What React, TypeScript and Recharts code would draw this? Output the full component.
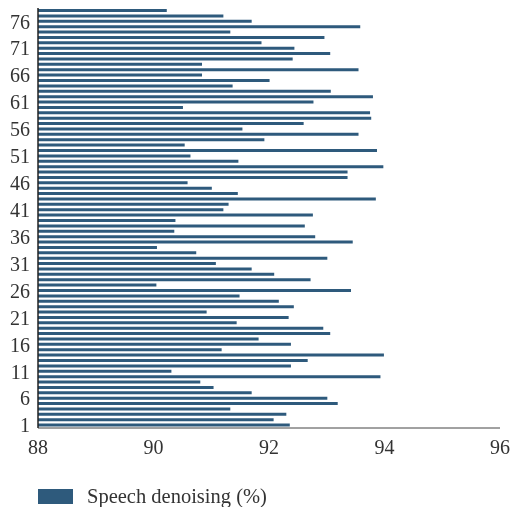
import React from 'react';
import { BarChart, Bar, XAxis, YAxis, Legend } from 'recharts';

const BAR = '#2e5a7c';
const FONT = '"Liberation Serif", "DejaVu Serif", serif';

// experiment index 1..78, bottom to top
const values = [
  92.36, 92.08, 92.30, 91.33, 93.19, 93.01, 91.70, 91.04, 90.81, 93.93,
  90.31, 92.38, 92.67, 93.99, 91.18, 92.38, 91.82, 93.06, 92.94, 91.44,
  92.34, 90.92, 92.43, 92.17, 91.49, 93.42, 90.05, 92.72, 92.09, 91.70,
  91.08, 93.01, 90.74, 90.06, 93.45, 92.80, 90.36, 92.62, 90.38, 92.76,
  91.21, 91.30, 93.85, 91.46, 91.01, 90.59, 93.36, 93.36, 93.98, 91.47,
  90.64, 93.87, 90.54, 91.92, 93.55, 91.54, 92.60, 93.77, 93.75, 90.51,
  92.77, 93.80, 93.07, 91.37, 92.01, 90.84, 93.55, 90.84, 92.41, 93.06,
  92.44, 91.87, 92.96, 91.33, 93.58, 91.70, 91.21, 90.23,
];
const xTicks = [88, 90, 92, 94, 96];
const seriesName = 'Speech denoising (%)';

const data = values.map((v, i) => ({ name: String(i + 1), value: v }));

const LegendBox = () => (
  <div style={{ height: 49, paddingTop: 28, boxSizing: 'border-box', display: 'flex', alignItems: 'center', fontFamily: FONT, fontSize: 20.5, color: '#333' }}>
    <span style={{ display: 'inline-block', width: 35, height: 15, background: BAR, marginRight: 14 }} />
    <span>{seriesName}</span>
  </div>
);

export default function App() {
  return (
    <div style={{ position: 'fixed', left: 0, top: 0, width: 511, height: 507 }}>
      <style>{'html,body{margin:0;overflow:hidden}.recharts-surface{overflow:visible}'}</style>
      <BarChart
        width={511}
        height={507}
        layout="vertical"
        data={data}
        margin={{ top: 8, right: 11, left: 0, bottom: 0 }}
      >
        <XAxis
          type="number"
          domain={[88, 96]}
          ticks={xTicks}
          allowDataOverflow
          height={30}
          tickLine={false}
          tickMargin={6}
          stroke="#444"
          tick={{ fill: '#333', fontSize: 20, fontFamily: FONT }}
        />
        <YAxis
          type="category"
          dataKey="name"
          reversed
          interval={4}
          width={38}
          tickLine={false}
          stroke="#222"
          strokeWidth={1.5}
          tick={{ fill: '#333', fontSize: 20, fontFamily: FONT }}
        />
        <Legend
          verticalAlign="bottom"
          align="left"
          content={() => <LegendBox />}
          wrapperStyle={{ left: 38 }}
        />
        <Bar dataKey="value" name={seriesName} fill={BAR} barSize={3} isAnimationActive={false} />
      </BarChart>
    </div>
  );
}
